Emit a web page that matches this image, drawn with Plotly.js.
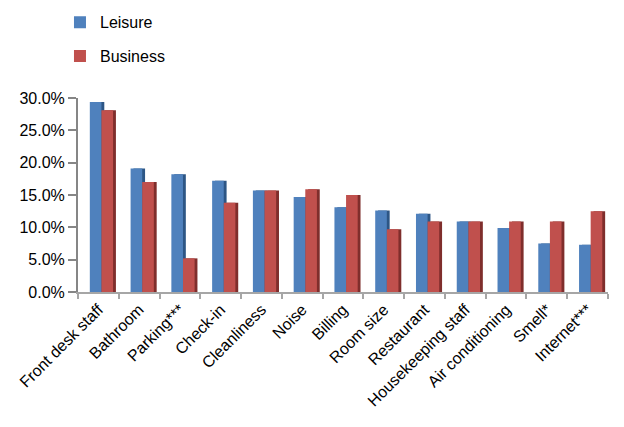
<!DOCTYPE html>
<html>
<head>
<meta charset="utf-8">
<script src="https://cdn.plot.ly/plotly-3.0.1.min.js"></script>
<style>html,body{margin:0;padding:0;background:#fff}#chart{width:624px;height:427px}</style>
</head>
<body>
<div id="chart"></div>
<script>
const categories = ["Front desk staff","Bathroom","Parking***","Check-in","Cleanliness","Noise","Billing","Room size","Restaurant","Housekeeping staff","Air conditioning","Smell*","Internet***"];
const leisure  = [0.294,0.191,0.182,0.172,0.157,0.147,0.131,0.126,0.121,0.109,0.099,0.075,0.073];
const business = [0.281,0.170,0.052,0.138,0.157,0.159,0.150,0.097,0.109,0.109,0.109,0.109,0.125];

const font = "Liberation Sans, Arial, sans-serif";
const W = 0.285, D = 0.07, START = -0.21;

function bar(y, color, offset, name, show, group) {
  return {type:'bar', x:categories, y:y, name:name, showlegend:show, legendgroup:group,
    offset:offset, width:W, marker:{color:color, line:{width:0}}, hoverinfo:'skip'};
}
const traces = [
  bar(leisure, '#2D5685', START + D, 'Leisure', false, 'a'),
  bar(leisure, '#4F81BD', START, 'Leisure', true, 'a'),
  bar(business, '#7F2E2C', START + W + D, 'Business', false, 'b'),
  bar(business, '#C0504D', START + W, 'Business', true, 'b')
];
const layout = {
  width:624, height:427,
  margin:{l:78, r:16, t:98, b:135, autoexpand:false},
  barmode:'overlay',
  paper_bgcolor:'#fff', plot_bgcolor:'#fff',
  font:{family:font, size:16, color:'#000'},
  showlegend:true,
  legend:{x:-0.034, y:1.478, xanchor:'left', yanchor:'top', tracegroupgap:10, font:{size:16}, bgcolor:'rgba(0,0,0,0)'},
  xaxis:{type:'category', tickangle:-45, showline:true, linecolor:'#A6A6A6', linewidth:2,
    ticks:'outside', tickson:'boundaries', ticklen:5, tickcolor:'#A6A6A6', tickwidth:2,
    showgrid:false, tickfont:{size:16}},
  yaxis:{range:[0,0.3], dtick:0.05, tickformat:'.1%', showline:true, linecolor:'#868686', linewidth:2,
    ticks:'outside', ticklen:8, tickcolor:'#868686', tickwidth:2, showgrid:false, zeroline:false,
    tickfont:{size:16}}
};
Plotly.newPlot('chart', traces, layout, {staticPlot:true, displayModeBar:false});
</script>
</body>
</html>
